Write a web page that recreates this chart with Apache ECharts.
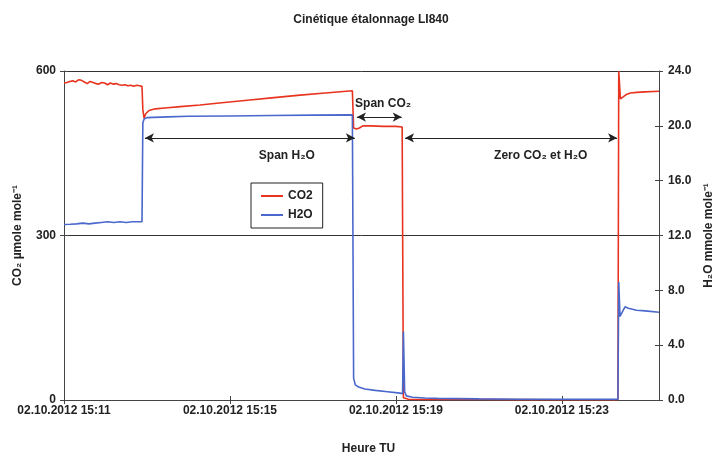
<!DOCTYPE html>
<html>
<head>
<meta charset="utf-8">
<script src="https://cdn.jsdelivr.net/npm/echarts@6/dist/echarts.min.js"></script>
<style>
html,body{margin:0;padding:0;background:#fff;}
#chart{width:712px;height:457px;}
</style>
</head>
<body>
<div id="chart"></div>
<script>
// ---- Data (time in minutes after 02.10.2012 15:11) ----
const xTickLabels = ['02.10.2012 15:11', '02.10.2012 15:15', '02.10.2012 15:19', '02.10.2012 15:23'];
const seriesNames = ['CO2', 'H2O'];

const co2T = [0.00,0.07,0.14,0.21,0.28,0.35,0.42,0.49,0.56,0.63,0.70,0.77,0.84,0.91,0.98,1.05,1.12,1.19,1.26,1.33,1.40,1.47,1.54,1.61,1.68,1.75,1.82,1.88,
  1.90,1.93,1.97,2.05,2.20,2.50,2.80,3.28,3.80,4.48,5.00,5.69,6.30,6.95,
  6.98,7.05,7.12,7.20,7.40,7.70,8.00,8.15,
  8.18,8.22,8.30,8.60,9.00,10.00,11.00,12.00,13.00,13.35,
  13.37,13.41,13.46,13.55,13.65,13.80,14.00,14.34];
const co2V = [578,579,581,582,580,584,583,580,577,581,579,577,576,579,578,575,578,576,577,575,574,575,573,574,572,574,573,572,
  530,514,522,528,531,533,535,538,542,547,551,556,560,564,
  496,494,496,500,500,499,499,498,
  4,2,1.5,1,1,0.8,0.6,0.5,0.5,0.5,
  600,549,552,557,560,561,562,563];

const h2oT = [0,0.15,0.30,0.45,0.60,0.75,0.90,1.05,1.20,1.35,1.50,1.65,1.80,1.88,
  1.90,1.93,2.00,2.50,3.00,4.00,5.00,6.00,6.95,
  6.98,7.02,7.10,7.25,7.50,7.80,8.10,8.16,
  8.18,8.21,8.25,8.40,8.70,9.00,10.00,11.00,12.00,13.00,13.35,
  13.37,13.40,13.45,13.52,13.60,13.80,14.00,14.34];
const h2oV = [12.8,12.82,12.85,12.9,12.85,12.9,12.95,13.0,12.95,13.0,12.95,13.0,13.0,13.0,
  20.2,20.5,20.6,20.65,20.7,20.72,20.75,20.78,20.8,
  1.6,1.1,0.95,0.8,0.7,0.6,0.5,0.45,
  5.0,0.6,0.3,0.2,0.15,0.12,0.08,0.06,0.05,0.05,0.05,
  8.6,6.1,6.4,6.8,6.7,6.55,6.5,6.4];

// Annotation arrows: [label, tStart, tEnd, co2Level, labelT, labelCo2Level]
const annotations = [
  ['Span H\u2082O', 1.95, 7.01, 478, 5.37, 445],
  ['Span CO\u2082', 7.06, 8.14, 516, 7.69, 540],
  ['Zero CO\u2082 et H\u2082O', 8.22, 13.33, 478, 11.49, 445]
];

const xMin = 0, xMax = 14.34, xInterval = 4;
const yLeftMax = 600, yLeftInterval = 300;
const yRightMax = 24, yRightInterval = 4;

const zip = (a, b) => a.map((t, i) => [t, b[i]]);
const FONT = "'Liberation Sans', Arial, sans-serif";
const AX = '#444';

const chart = echarts.init(document.getElementById('chart'), null, {renderer: 'canvas'});
const gridBox = {left: 64, right: 53, top: 71, bottom: 57, containLabel: false, outerBoundsMode: 'none'};
const baseX = {
  type: 'value', min: xMin, max: xMax, interval: xInterval, position: 'bottom',
  splitLine: {show: false},
  axisLine: {show: true, onZero: false, lineStyle: {color: AX, width: 1}}
};
const tickOnlyY = (pos, max, interval) => ({
  type: 'value', gridIndex: 1, position: pos, min: 0, max: max, interval: interval,
  axisLine: {show: false}, axisLabel: {show: false}, splitLine: {show: false},
  axisTick: {show: true, inside: true, length: 4, lineStyle: {color: AX}}
});
const option = {
  animation: false,
  backgroundColor: '#fff',
  title: {
    text: 'Cinétique étalonnage LI840',
    left: 366, top: 9, textAlign: 'center',
    textStyle: {fontFamily: FONT, fontSize: 12, fontWeight: 'bold', color: '#222'}
  },
  legend: {
    orient: 'vertical', left: 251, top: 183,
    data: seriesNames,
    borderColor: '#222', borderWidth: 1, backgroundColor: '#fff',
    padding: [7, 10, 7, 10], itemGap: 7,
    itemWidth: 22, itemHeight: 2, icon: 'rect',
    textStyle: {fontFamily: FONT, fontSize: 12, fontWeight: 'bold', color: '#222'}
  },
  grid: [Object.assign({}, gridBox), Object.assign({}, gridBox)],
  xAxis: [
    Object.assign({}, baseX, {
      gridIndex: 0,
      name: 'Heure TU', nameLocation: 'middle', nameGap: 43,
      nameTextStyle: {fontFamily: FONT, fontSize: 12, fontWeight: 'bold', color: '#222', padding: [0, 0, 0, 14]},
      axisTick: {show: true, inside: false, length: 4, lineStyle: {color: AX}},
      axisLabel: {
        show: true, margin: 5, showMaxLabel: false,
        fontFamily: FONT, fontSize: 12, fontWeight: 'bold', color: '#222',
        formatter: v => {
          const k = v / xInterval;
          return Math.abs(k - Math.round(k)) < 1e-6 ? (xTickLabels[Math.round(k)] || '') : '';
        }
      }
    }),
    Object.assign({}, baseX, {
      gridIndex: 1,
      axisLine: {show: false},
      axisTick: {show: true, inside: true, length: 4, lineStyle: {color: AX}},
      axisLabel: {show: false}
    })
  ],
  yAxis: [
    {
      type: 'value', gridIndex: 0, position: 'left', min: 0, max: yLeftMax, interval: yLeftInterval,
      name: 'CO\u2082 \u00b5mole mole\u207b\u00b9', nameLocation: 'middle', nameGap: 40,
      nameTextStyle: {fontFamily: FONT, fontSize: 12, fontWeight: 'bold', color: '#222'},
      axisLine: {show: true, lineStyle: {color: AX}},
      axisTick: {show: true, inside: false, length: 4, lineStyle: {color: AX}},
      axisLabel: {margin: 8, fontFamily: FONT, fontSize: 12, fontWeight: 'bold', color: '#222'},
      splitLine: {show: true, lineStyle: {color: '#333', width: 1}}
    },
    {
      type: 'value', gridIndex: 0, position: 'right', min: 0, max: yRightMax, interval: yRightInterval,
      name: 'H\u2082O mmole mole\u207b\u00b9', nameLocation: 'middle', nameGap: 39, nameRotate: 90,
      nameTextStyle: {fontFamily: FONT, fontSize: 12, fontWeight: 'bold', color: '#222'},
      axisLine: {show: true, lineStyle: {color: AX}},
      axisTick: {show: true, inside: false, length: 4, lineStyle: {color: AX}},
      axisLabel: {margin: 9, fontFamily: FONT, fontSize: 12, fontWeight: 'bold', color: '#222',
        formatter: v => v.toFixed(1)},
      splitLine: {show: false}
    },
    tickOnlyY('left', yLeftMax, yLeftInterval),
    tickOnlyY('right', yRightMax, yRightInterval)
  ],
  series: [
    {
      name: seriesNames[0], type: 'line', xAxisIndex: 0, yAxisIndex: 0,
      data: zip(co2T, co2V), showSymbol: false, symbol: 'none',
      color: '#e8341f', lineStyle: {color: '#e8341f', width: 1.6},
      markLine: {
        silent: true, symbol: ['arrow', 'arrow'], symbolSize: [7, 9],
        lineStyle: {color: '#222', width: 1.2, type: 'solid'},
        label: {show: false},
        data: annotations.map(a => [{coord: [a[1], a[3]]}, {coord: [a[2], a[3]]}])
      },
      markPoint: {
        silent: true, symbol: 'circle', symbolSize: 0,
        label: {show: true, position: 'inside', fontFamily: FONT, fontSize: 12, fontWeight: 'bold', color: '#222',
          formatter: p => p.name},
        data: annotations.map(a => ({name: a[0], coord: [a[4], a[5]]}))
      }
    },
    {
      name: seriesNames[1], type: 'line', xAxisIndex: 0, yAxisIndex: 1,
      data: zip(h2oT, h2oV), showSymbol: false, symbol: 'none',
      color: '#4a68cc', lineStyle: {color: '#4a68cc', width: 1.6}
    }
  ]
};
chart.setOption(option);
</script>
</body>
</html>
